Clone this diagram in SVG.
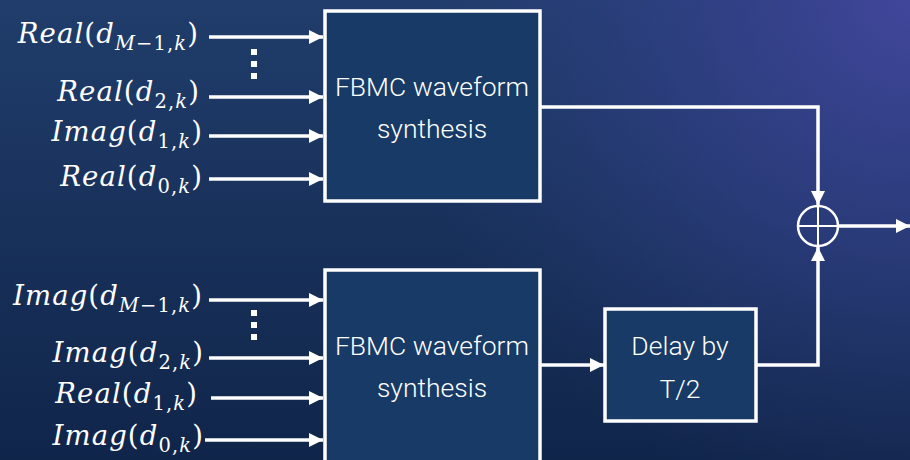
<svg xmlns="http://www.w3.org/2000/svg" width="910" height="460" viewBox="0 0 910 460">
<defs>
<linearGradient id="bg" x1="0" y1="0" x2="0" y2="1">
<stop offset="0" stop-color="#203d6b"/>
<stop offset="1" stop-color="#10254a"/>
</linearGradient>
<radialGradient id="glow" cx="910" cy="0" r="520" gradientUnits="userSpaceOnUse">
<stop offset="0" stop-color="#41469b" stop-opacity="1"/>
<stop offset="0.5" stop-color="#33408a" stop-opacity="0.6"/>
<stop offset="1" stop-color="#2a3c78" stop-opacity="0"/>
</radialGradient>
<marker id="ah" viewBox="0 0 14 14" refX="14" refY="7" markerWidth="14" markerHeight="14" markerUnits="userSpaceOnUse" orient="auto">
<path d="M0,0 L14,7 L0,14 Z" fill="#ffffff"/>
</marker>
<style>
.box{fill:#173a66;stroke:#ffffff;stroke-width:3.5}
.ln{fill:none;stroke:#ffffff;stroke-width:3.5}
.bt{font-family:Roboto,"Liberation Sans",sans-serif;font-weight:300;font-size:26.5px;fill:#ffffff;text-anchor:middle}
.lb{font-family:"DejaVu Serif",serif;font-style:italic;font-size:27.5px;letter-spacing:1.1px;fill:#ffffff;text-anchor:end}
.up{font-style:normal}
.sb{font-size:19.5px}
.dot{fill:#ffffff}
</style>
</defs>
<rect width="910" height="460" fill="url(#bg)"/>
<rect width="910" height="460" fill="url(#glow)"/>

<g id="connectors">
<line class="ln" x1="209" y1="37" x2="323" y2="37" marker-end="url(#ah)"/>
<line class="ln" x1="209" y1="97" x2="323" y2="97" marker-end="url(#ah)"/>
<line class="ln" x1="209" y1="136" x2="323" y2="136" marker-end="url(#ah)"/>
<line class="ln" x1="209" y1="179" x2="323" y2="179" marker-end="url(#ah)"/>
<line class="ln" x1="209" y1="300" x2="323" y2="300" marker-end="url(#ah)"/>
<line class="ln" x1="209" y1="358" x2="323" y2="358" marker-end="url(#ah)"/>
<line class="ln" x1="211" y1="398" x2="323" y2="398" marker-end="url(#ah)"/>
<line class="ln" x1="205" y1="440" x2="323" y2="440" marker-end="url(#ah)"/>
<path class="ln" d="M541,107 H818 V205" marker-end="url(#ah)"/>
<line class="ln" x1="541" y1="365" x2="604" y2="365" marker-end="url(#ah)"/>
<path class="ln" d="M757,365 H818 V247" marker-end="url(#ah)"/>
<line class="ln" x1="838" y1="226" x2="910" y2="226" marker-end="url(#ah)"/>
<rect class="dot" x="251" y="49" width="6" height="6"/>
<rect class="dot" x="251" y="61" width="6" height="6"/>
<rect class="dot" x="251" y="73" width="6" height="6"/>
<rect class="dot" x="251" y="310" width="6" height="6"/>
<rect class="dot" x="251" y="322" width="6" height="6"/>
<rect class="dot" x="251" y="334" width="6" height="6"/>
</g>

<g id="labels">
<text class="lb" x="199" y="43">Real<tspan class="up">(</tspan>d<tspan class="sb" dy="7">M<tspan class="up">−1,</tspan>k</tspan><tspan class="up" dy="-7">)</tspan></text>
<text class="lb" x="200" y="101">Real<tspan class="up">(</tspan>d<tspan class="sb" dy="7"><tspan class="up">2,</tspan>k</tspan><tspan class="up" dy="-7">)</tspan></text>
<text class="lb" x="203" y="141">Imag<tspan class="up">(</tspan>d<tspan class="sb" dy="7"><tspan class="up">1,</tspan>k</tspan><tspan class="up" dy="-7">)</tspan></text>
<text class="lb" x="203" y="186">Real<tspan class="up">(</tspan>d<tspan class="sb" dy="7"><tspan class="up">0,</tspan>k</tspan><tspan class="up" dy="-7">)</tspan></text>
<text class="lb" x="203" y="305">Imag<tspan class="up">(</tspan>d<tspan class="sb" dy="7">M<tspan class="up">−1,</tspan>k</tspan><tspan class="up" dy="-7">)</tspan></text>
<text class="lb" x="204" y="362">Imag<tspan class="up">(</tspan>d<tspan class="sb" dy="7"><tspan class="up">2,</tspan>k</tspan><tspan class="up" dy="-7">)</tspan></text>
<text class="lb" x="198" y="403">Real<tspan class="up">(</tspan>d<tspan class="sb" dy="7"><tspan class="up">1,</tspan>k</tspan><tspan class="up" dy="-7">)</tspan></text>
<text class="lb" x="204" y="445">Imag<tspan class="up">(</tspan>d<tspan class="sb" dy="7"><tspan class="up">0,</tspan>k</tspan><tspan class="up" dy="-7">)</tspan></text>
</g>

<g id="fbmc-top">
<rect class="box" x="325" y="11" width="215" height="190"/>
<text class="bt" x="432" y="96">FBMC waveform</text>
<text class="bt" x="432" y="138">synthesis</text>
</g>

<g id="fbmc-bottom">
<rect class="box" x="325" y="270" width="215" height="196"/>
<text class="bt" x="432" y="355">FBMC waveform</text>
<text class="bt" x="432" y="397">synthesis</text>
</g>

<g id="delay">
<rect class="box" x="605" y="309" width="151" height="112"/>
<text class="bt" x="680" y="355">Delay by</text>
<text class="bt" x="680" y="398">T/2</text>
</g>

<g id="sum">
<circle cx="818" cy="226" r="20" fill="none" stroke="#ffffff" stroke-width="2.5"/>
<line x1="798" y1="226" x2="838" y2="226" stroke="#ffffff" stroke-width="2"/>
<line x1="818" y1="206" x2="818" y2="246" stroke="#ffffff" stroke-width="2"/>
</g>
</svg>
